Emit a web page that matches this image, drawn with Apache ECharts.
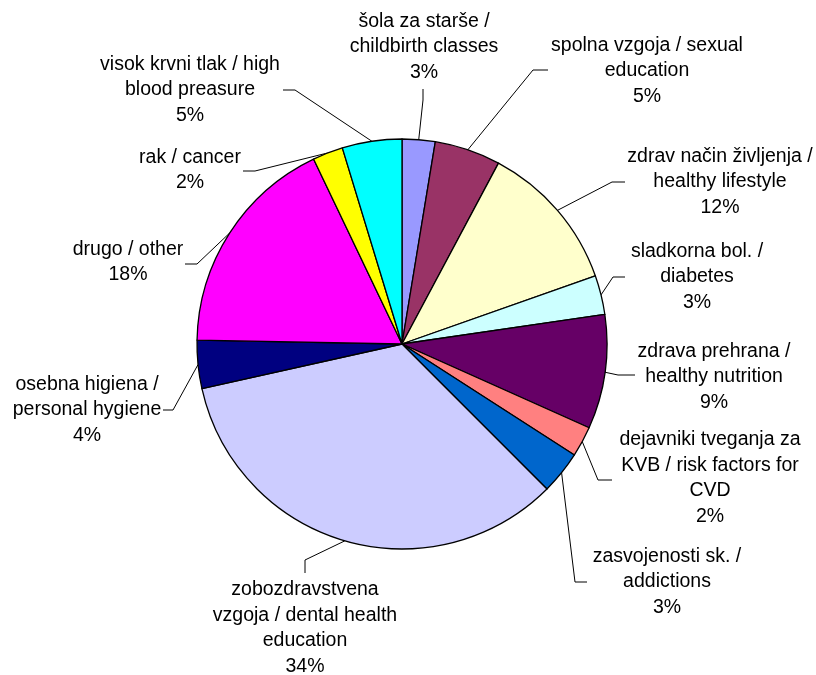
<!DOCTYPE html>
<html>
<head>
<meta charset="utf-8">
<script src="https://cdn.jsdelivr.net/npm/echarts@6/dist/echarts.min.js"></script>
<style>html,body{margin:0;padding:0;background:#fff}#c{width:816px;height:675px}</style>
</head>
<body>
<div id="c"></div>
<script>
var categories = [
  "šola za starše /\nchildbirth classes",
  "spolna vzgoja / sexual\neducation",
  "zdrav način življenja /\nhealthy lifestyle",
  "sladkorna bol. /\ndiabetes",
  "zdrava prehrana /\nhealthy nutrition",
  "dejavniki tveganja za\nKVB / risk factors for\nCVD",
  "zasvojenosti sk. /\naddictions",
  "zobozdravstvena\nvzgoja / dental health\neducation",
  "osebna higiena /\npersonal hygiene",
  "drugo / other",
  "rak / cancer",
  "visok krvni tlak / high\nblood preasure"
];
var values = [2.6, 5.2, 11.8, 3.1, 9.0, 2.4, 3.4, 34.0, 3.8, 17.6, 2.4, 4.7];
var colors = ["#9999FF", "#993366", "#FFFFCC", "#CCFFFF", "#660066", "#FF8080", "#0066CC", "#CCCCFF", "#000080", "#FF00FF", "#FFFF00", "#00FFFF"];

// label placement (text centre, leader elbow, leader end), layout only
var labelSpots = [
  {c: [424, 47],  e: [423, 100], t: [423, 89]},
  {c: [647, 71],  e: [533, 70],  t: [548, 70]},
  {c: [720, 182], e: [612, 182], t: [625, 182]},
  {c: [697, 277], e: [613, 277], t: [625, 277]},
  {c: [714, 377], e: [618, 375], t: [635, 375]},
  {c: [710, 478], e: [598, 480], t: [612, 480]},
  {c: [667, 582], e: [575, 582], t: [587, 582]},
  {c: [305, 628], e: [305, 560], t: [305, 573]},
  {c: [87, 410],  e: [173, 410], t: [163, 410]},
  {c: [128, 262], e: [197, 264], t: [185, 264]},
  {c: [190, 170], e: [255, 171], t: [243, 171]},
  {c: [190, 90],  e: [295, 90],  t: [283, 90]}
];

var total = values.reduce(function(a, b){ return a + b; }, 0);
var data = categories.map(function(n, i){
  return { name: n, value: values[i], itemStyle: { color: colors[i] } };
});

var chart = echarts.init(document.getElementById('c'), null, {renderer: 'canvas'});
chart.setOption({
  animation: false,
  series: [{
    type: 'pie',
    center: [402, 344],
    radius: 205,
    startAngle: 90,
    clockwise: true,
    avoidLabelOverlap: false,
    data: data,
    itemStyle: { borderColor: '#000', borderWidth: 1.3 },
    label: {
      show: true,
      position: 'outside',
      color: '#000',
      fontFamily: 'Liberation Sans, Arial, sans-serif',
      fontSize: 19.5,
      lineHeight: 25.5,
      formatter: function(p){ return p.name + '\n' + Math.round(p.value / total * 100) + '%'; }
    },
    labelLine: {
      show: true,
      length: 20,
      length2: 10,
      lineStyle: { color: '#000', width: 1 }
    },
    labelLayout: function(p){
      var s = labelSpots[p.dataIndex];
      var pts = p.labelLinePoints;
      return {
        x: s.c[0], y: s.c[1], align: 'center', verticalAlign: 'middle',
        labelLinePoints: [pts[0], s.e, s.t]
      };
    },
    emphasis: { disabled: true }
  }]
});
</script>
</body>
</html>
